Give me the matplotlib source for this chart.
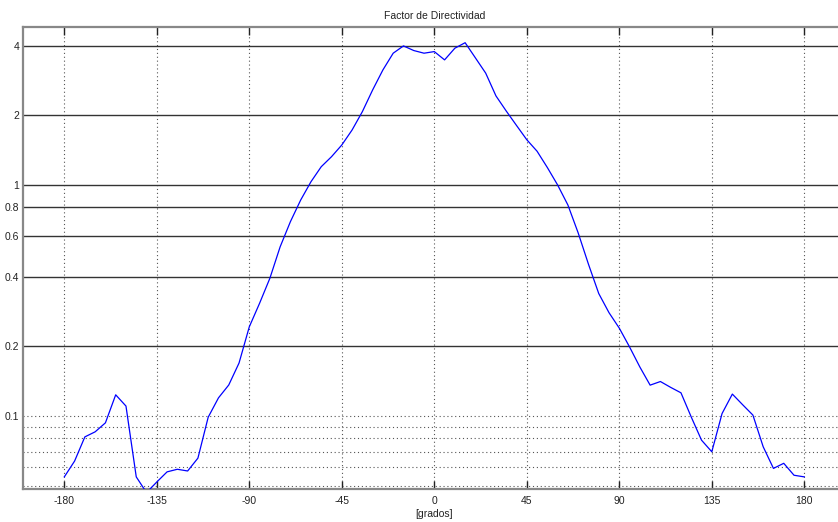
import numpy as np
import matplotlib
matplotlib.use("Agg")
import matplotlib.pyplot as plt
from matplotlib.ticker import FixedLocator, NullLocator, FixedFormatter

angles = list(range(-180, 181, 5))
directivity = [
    0.0545, 0.0638, 0.0812, 0.0854, 0.0934, 0.1235, 0.1104, 0.0545, 0.0466, 0.0518,
    0.0573, 0.0588, 0.0578, 0.0657, 0.0988, 0.1198, 0.1362, 0.1695, 0.2433, 0.3076,
    0.3945, 0.540, 0.694, 0.861, 1.033, 1.200, 1.326, 1.490, 1.730, 2.077,
    2.579, 3.149, 3.72, 4.00, 3.82, 3.72, 3.78, 3.48, 3.91, 4.13,
    3.55, 3.05, 2.43, 2.09, 1.81, 1.57, 1.40, 1.19, 1.00, 0.819,
    0.620, 0.454, 0.339, 0.280, 0.240, 0.199, 0.163, 0.136, 0.141, 0.133,
    0.126, 0.0990, 0.0786, 0.0700, 0.1025, 0.1244, 0.1119, 0.1009, 0.0736, 0.0593,
    0.0624, 0.0554, 0.0545,
]
x_ticks = [-180, -135, -90, -45, 0, 45, 90, 135, 180]
x_ticklabels = ["-180", "-135", "-90", "-45", "0", "45", "90", "135", "180"]
y_ticks = [0.1, 0.2, 0.4, 0.6, 0.8, 1, 2, 4]
y_ticklabels = ["0.1", "0.2", "0.4", "0.6", "0.8", "1", "2", "4"]
y_solid = [0.2, 0.4, 0.6, 0.8, 1, 2, 4]
y_dotted = [0.05, 0.06, 0.07, 0.08, 0.09, 0.1]

plt.rcParams['font.family'] = ['Liberation Sans', 'DejaVu Sans']

fig = plt.figure(figsize=(8.38, 5.22), dpi=100)
W, H = 838, 522
left, right, top, bottom = 23.2, 845.4, 27, 489
ax = fig.add_axes([left / W, (H - bottom) / H, (right - left) / W, (bottom - top) / H])

ax.set_yscale('log')
ax.set_xlim(-200, 200)
ax.set_ylim(0.0483, 4.83)

# grid
for xv in x_ticks:
    ax.axvline(xv, color='#555555', lw=0.8, ls=(0, (1, 2.5)), zorder=1)
for yv in y_dotted:
    ax.axhline(yv, color='#555555', lw=0.8, ls=(0, (1, 2.5)), zorder=1)
for yv in y_solid:
    ax.axhline(yv, color='#333333', lw=1.0, zorder=1)

ax.plot(angles, directivity, color='#0000ff', lw=0.9, zorder=3)

ax.xaxis.set_major_locator(FixedLocator(x_ticks))
ax.xaxis.set_major_formatter(FixedFormatter(x_ticklabels))
ax.xaxis.set_minor_locator(NullLocator())
ax.yaxis.set_major_locator(FixedLocator(y_ticks))
ax.yaxis.set_major_formatter(FixedFormatter(y_ticklabels))
ax.yaxis.set_minor_locator(NullLocator())

ax.tick_params(axis='x', direction='in', length=6, width=1, color='#222222',
               top=True, labelsize=7.5, labelcolor='#222222', pad=5)
ax.tick_params(axis='y', direction='in', length=0, labelsize=7.5,
               labelcolor='#222222', pad=3)

for s in ['left', 'bottom', 'top']:
    ax.spines[s].set_color('#888888')
    ax.spines[s].set_linewidth(1.6)
ax.spines['right'].set_visible(False)

ax.set_title('Factor de Directividad', fontsize=7.5, color='#222222', pad=6)
ax.set_xlabel('[grados]', fontsize=7.5, color='#222222', labelpad=2)

fig.savefig('out.png', dpi=100)
